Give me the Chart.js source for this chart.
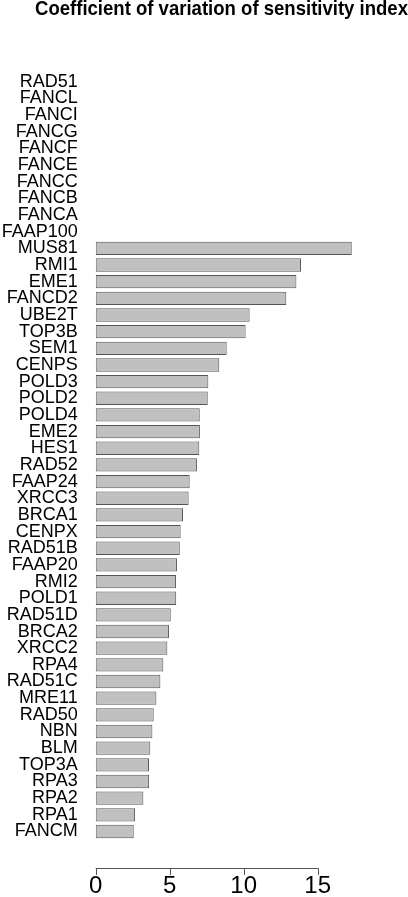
<!DOCTYPE html>
<html>
<head>
<meta charset="utf-8">
<script src="https://cdn.jsdelivr.net/npm/chart.js@4.4.1/dist/chart.umd.min.js"></script>
<style>
  html, body { margin: 0; padding: 0; background: #ffffff; }
  #wrap { width: 408px; height: 897px; position: relative; }
</style>
</head>
<body>
<div id="wrap"><canvas id="c"></canvas></div>
<script>
const titleText = 'Coefficient of variation of sensitivity index';
const genes = ['RAD51','FANCL','FANCI','FANCG','FANCF','FANCE','FANCC','FANCB','FANCA','FAAP100',
  'MUS81','RMI1','EME1','FANCD2','UBE2T','TOP3B','SEM1','CENPS','POLD3','POLD2','POLD4',
  'EME2','HES1','RAD52','FAAP24','XRCC3','BRCA1','CENPX','RAD51B','FAAP20','RMI2','POLD1',
  'RAD51D','BRCA2','XRCC2','RPA4','RAD51C','MRE11','RAD50','NBN','BLM','TOP3A','RPA3','RPA2','RPA1','FANCM'];
const cvValues = [0,0,0,0,0,0,0,0,0,0,
  17.3,13.87,13.56,12.88,10.40,10.13,8.85,8.35,7.61,7.57,7.03,
  7.04,7.00,6.84,6.35,6.28,5.90,5.74,5.68,5.49,5.43,5.44,
  5.07,4.95,4.84,4.57,4.37,4.10,3.92,3.83,3.69,3.60,3.61,3.22,2.66,2.57];
const axisTicks = [0, 5, 10, 15];

const axisPlugin = {
  id: 'rAxis',
  afterLayout(chart) {
    if (chart.titleBlock) {
      chart.titleBlock.left = 35;
      chart.titleBlock.right = 408;
    }
  },
  afterDraw(chart) {
    const x = chart.scales.x;
    const ctx = chart.ctx;
    const y0 = chart.chartArea.bottom + 28.2;
    const lo = x.getPixelForValue(axisTicks[0]);
    const hi = x.getPixelForValue(axisTicks[axisTicks.length - 1]);
    ctx.save();
    ctx.strokeStyle = '#555555';
    ctx.lineWidth = 1;
    ctx.beginPath();
    ctx.moveTo(lo, y0 + 0.5);
    ctx.lineTo(hi, y0 + 0.5);
    axisTicks.forEach(v => {
      const px = Math.round(x.getPixelForValue(v)) + 0.5;
      ctx.moveTo(px, y0);
      ctx.lineTo(px, y0 + 7);
    });
    ctx.stroke();
    ctx.restore();
  }
};

new Chart(document.getElementById('c'), {
  type: 'bar',
  data: {
    labels: genes,
    datasets: [{
      data: cvValues,
      backgroundColor: '#c0c0c0',
      borderColor: '#555555',
      borderWidth: ctx => (ctx.raw === 0 ? 0 : 1),
      borderSkipped: false,
      barPercentage: 0.8,
      categoryPercentage: 1.0
    }]
  },
  options: {
    indexAxis: 'y',
    responsive: true,
    maintainAspectRatio: false,
    animation: false,
    layout: { padding: { left: 0, right: 16.3, top: 0, bottom: 0 } },
    plugins: {
      legend: { display: false },
      tooltip: { enabled: false },
      title: {
        display: true,
        text: titleText,
        color: '#000000',
        font: { family: '"Liberation Sans", Arial, sans-serif', size: 19.3, weight: 'bold', lineHeight: 1 },
        padding: { top: 0, bottom: 54.1 }
      }
    },
    scales: {
      y: {
        type: 'category',
        offset: true,
        grid: { display: false, drawTicks: false },
        border: { display: false },
        ticks: {
          autoSkip: false,
          color: '#000000',
          padding: 18,
          font: { family: '"Liberation Sans", Arial, sans-serif', size: 18, lineHeight: 1 }
        },
        afterFit: s => { s.width = 95.7; }
      },
      x: {
        type: 'linear',
        min: 0,
        max: 20,
        grid: { display: false, drawTicks: false },
        border: { display: false },
        ticks: {
          stepSize: 5,
          color: '#000000',
          padding: 34.7,
          maxRotation: 0,
          font: { family: '"Liberation Sans", Arial, sans-serif', size: 24, lineHeight: 1 },
          callback: v => (axisTicks.includes(v) ? String(v) : '')
        },
        afterFit: s => { s.height = 57.2; s.paddingLeft = 0; s.paddingRight = 0; }
      }
    }
  },
  plugins: [axisPlugin]
});
</script>
</body>
</html>
